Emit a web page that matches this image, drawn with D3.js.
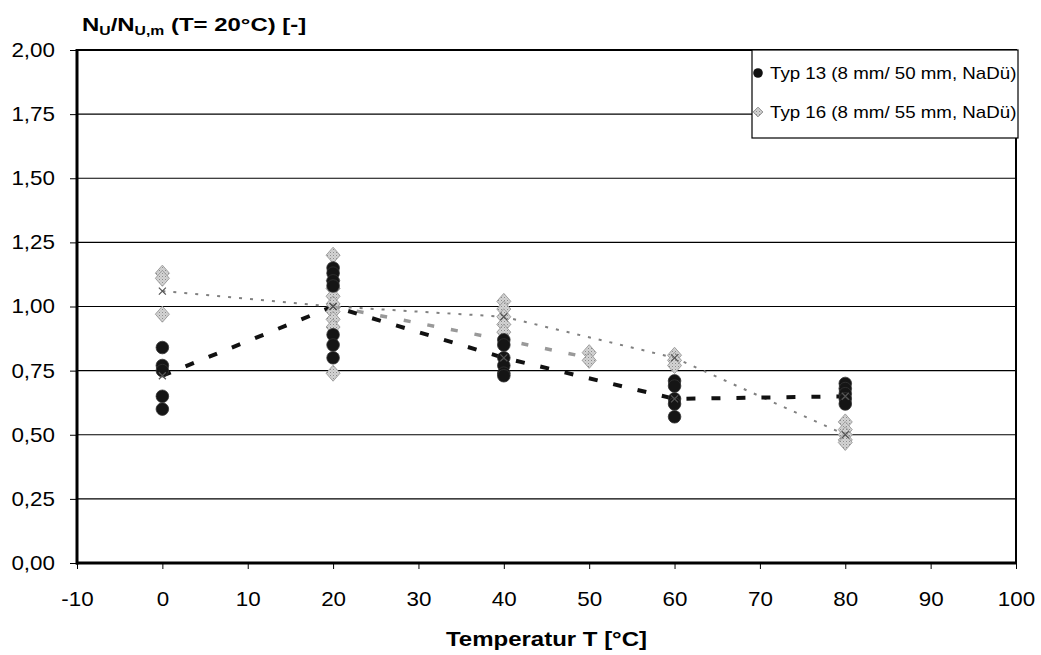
<!DOCTYPE html>
<html>
<head>
<meta charset="utf-8">
<script src="https://cdn.jsdelivr.net/npm/d3@7"></script>
<style>
  html, body { margin: 0; padding: 0; background: #fff; }
  svg { display: block; font-family: "Liberation Sans", Arial, sans-serif; }
</style>
</head>
<body>
<svg id="chart" width="1041" height="655"></svg>
<script>
// ---- data ----
const xTicks = [-10, 0, 10, 20, 30, 40, 50, 60, 70, 80, 90, 100];
const yTicks = [0, 0.25, 0.5, 0.75, 1.0, 1.25, 1.5, 1.75, 2.0];

const typ13Name = "Typ 13 (8 mm/ 50 mm, NaDü)";
const typ13T = [0, 0, 0, 0, 0, 20, 20, 20, 20, 20, 20, 20, 40, 40, 40, 40, 40, 40, 60, 60, 60, 60, 60, 80, 80, 80, 80, 80];
const typ13V = [0.84, 0.77, 0.75, 0.65, 0.60, 1.15, 1.13, 1.10, 1.08, 0.89, 0.85, 0.80, 0.87, 0.85, 0.80, 0.77, 0.74, 0.73, 0.71, 0.69, 0.64, 0.62, 0.57, 0.70, 0.68, 0.66, 0.64, 0.62];

const typ16Name = "Typ 16 (8 mm/ 55 mm, NaDü)";
const typ16T = [0, 0, 0, 20, 20, 20, 20, 20, 20, 20, 20, 20, 40, 40, 40, 40, 40, 50, 50, 60, 60, 60, 80, 80, 80, 80, 80];
const typ16V = [1.13, 1.11, 0.97, 1.20, 1.10, 1.07, 1.04, 1.01, 0.98, 0.95, 0.92, 0.74, 1.02, 0.99, 0.96, 0.93, 0.90, 0.82, 0.79, 0.81, 0.79, 0.77, 0.55, 0.52, 0.50, 0.48, 0.47];

const mean13T = [0, 20, 40, 60, 80];
const mean13V = [0.73, 1.00, 0.80, 0.64, 0.65];
const mean16T = [0, 20, 40, 60, 80];
const mean16V = [1.06, 1.00, 0.96, 0.80, 0.50];
const mean16bT = [20, 40, 50];
const mean16bV = [1.00, 0.87, 0.80];

const yTitle = ["N", "U", "/N", "U,m", " (T= 20°C) [-]"];
const xTitle = "Temperatur T [°C]";

// ---- setup ----
const loc = d3.formatLocale({decimal: ",", thousands: ".", grouping: [3], currency: ["", "€"], minus: "-"});
const fmtY = loc.format(".2f");
const fmtX = loc.format("d");

const svg = d3.select("#chart");
const L = 77, R = 1016, T = 50, B = 563;
const x = d3.scaleLinear().domain([-10, 100]).range([L, R]);
const y = d3.scaleLinear().domain([0, 2]).range([B, T]);
const SX = 1.12; // horizontal stretch of axis text

// gridlines
svg.append("g").selectAll("line").data(yTicks.filter(v => v > 0 && v < 2)).join("line")
  .attr("x1", L).attr("x2", R).attr("y1", d => y(d)).attr("y2", d => y(d))
  .attr("stroke", "#000").attr("stroke-width", 1.1);

// axes
const gx = svg.append("g").attr("transform", `translate(0,${B})`)
  .call(d3.axisBottom(x).tickValues(xTicks).tickFormat(fmtX).tickSize(6).tickPadding(23));
const gy = svg.append("g").attr("transform", `translate(${L},0)`)
  .call(d3.axisLeft(y).tickValues(yTicks).tickFormat(fmtY).tickSize(7).tickPadding(15));
[gx, gy].forEach(g => {
  g.select(".domain").remove();
  g.selectAll(".tick line").attr("stroke", "#000").attr("stroke-width", 1);
  g.selectAll(".tick text").attr("font-size", 20).attr("fill", "#000")
   .attr("font-family", "'Liberation Sans', Arial, sans-serif");
});
gx.selectAll(".tick text").each(function() {
  const t = d3.select(this);
  const yy = +t.attr("y");
  t.attr("y", null).attr("dy", "0.71em").attr("transform", `translate(0,${yy}) scale(${SX},1)`);
});
gy.selectAll(".tick text").each(function() {
  const t = d3.select(this);
  const xx = +t.attr("x");
  t.attr("x", null).attr("transform", `translate(${xx},0) scale(${SX},1)`);
});

// frame
svg.append("rect").attr("x", L).attr("y", T).attr("width", R - L).attr("height", B - T)
  .attr("fill", "none").attr("stroke", "#000").attr("stroke-width", 2);
svg.append("line").attr("x1", L).attr("x2", L).attr("y1", T - 1).attr("y2", B + 1.5)
  .attr("stroke", "#000").attr("stroke-width", 3);
svg.append("line").attr("x1", L - 1).attr("x2", R + 1).attr("y1", B).attr("y2", B)
  .attr("stroke", "#000").attr("stroke-width", 3);

// lines
const line = d3.line().x(d => x(d[0])).y(d => y(d[1]));
svg.append("path").datum(d3.zip(mean16T, mean16V)).attr("d", line)
  .attr("fill", "none").attr("stroke", "#808080").attr("stroke-width", 2)
  .attr("stroke-dasharray", "3,8");
svg.append("path").datum(d3.zip(mean16bT, mean16bV)).attr("d", line)
  .attr("fill", "none").attr("stroke", "#999").attr("stroke-width", 3.5)
  .attr("stroke-dasharray", "7,17");
svg.append("path").datum(d3.zip(mean13T, mean13V)).attr("d", line)
  .attr("fill", "none").attr("stroke", "#111").attr("stroke-width", 4)
  .attr("stroke-dasharray", "9,16");

// pattern for diamonds
const defs = svg.append("defs");
const pat = defs.append("pattern").attr("id", "dither").attr("width", 3).attr("height", 3)
  .attr("patternUnits", "userSpaceOnUse");
pat.append("rect").attr("width", 3).attr("height", 3).attr("fill", "#d4d4d4");
pat.append("rect").attr("width", 1).attr("height", 1).attr("fill", "#8c8c8c");
pat.append("rect").attr("x", 1.5).attr("y", 1.5).attr("width", 1).attr("height", 1).attr("fill", "#b0b0b0");

const diamond = (cx, cy, w, h) => `M${cx},${cy - h}L${cx + w},${cy}L${cx},${cy + h}L${cx - w},${cy}Z`;

// Typ 16 diamonds
svg.append("g").selectAll("path").data(d3.zip(typ16T, typ16V)).join("path")
  .attr("d", d => diamond(x(d[0]), y(d[1]), 7, 8))
  .attr("fill", "url(#dither)").attr("stroke", "#a0a0a0").attr("stroke-width", 1);

// Typ 13 circles
svg.append("g").selectAll("circle").data(d3.zip(typ13T, typ13V)).join("circle")
  .attr("cx", d => x(d[0])).attr("cy", d => y(d[1])).attr("r", 6.3)
  .attr("fill", "#151515").attr("stroke", "#333").attr("stroke-width", 0.8);

// mean markers (x)
const cross = (cx, cy, s) => `M${cx - s},${cy - s}L${cx + s},${cy + s}M${cx - s},${cy + s}L${cx + s},${cy - s}`;
svg.append("g").selectAll("path").data(d3.zip(mean13T, mean13V).concat(d3.zip(mean16T, mean16V))).join("path")
  .attr("d", d => cross(x(d[0]), y(d[1]), 3.5))
  .attr("stroke", "#555").attr("stroke-width", 1.2).attr("fill", "none");

// legend
const lg = svg.append("g");
lg.append("rect").attr("x", 752).attr("y", 50).attr("width", 266).attr("height", 88)
  .attr("fill", "#fff").attr("stroke", "#000").attr("stroke-width", 1.2);
lg.append("circle").attr("cx", 758).attr("cy", 73).attr("r", 4.8).attr("fill", "#111");
lg.append("path").attr("d", diamond(758, 112, 4.8, 4.8)).attr("fill", "url(#dither)").attr("stroke", "#888");
[[typ13Name, 73], [typ16Name, 112]].forEach(([txt, yy]) => {
  lg.append("text").attr("x", 770).attr("y", yy).attr("dy", "0.36em").attr("font-size", 16)
    .attr("transform", `translate(770,0) scale(1.17,1) translate(-770,0)`).text(txt);
});

// y title
const yt = svg.append("text").attr("x", 82).attr("y", 31).attr("font-size", 19).attr("font-weight", "bold");
yt.append("tspan").text(yTitle[0]);
yt.append("tspan").attr("font-size", 12.5).attr("dy", 4).text(yTitle[1]);
yt.append("tspan").attr("dy", -4).text(yTitle[2]);
yt.append("tspan").attr("font-size", 12.5).attr("dy", 4).text(yTitle[3]);
yt.append("tspan").attr("dy", -4).text(yTitle[4]);
yt.attr("transform", `translate(82,0) scale(1.26,1) translate(-82,0)`);

// x title
svg.append("text").attr("x", (L + R) / 2).attr("y", 646).attr("text-anchor", "middle")
  .attr("font-size", 20).attr("font-weight", "bold")
  .attr("transform", `translate(${(L + R) / 2},0) scale(1.2,1) translate(${-(L + R) / 2},0)`)
  .text(xTitle);
</script>
</body>
</html>
